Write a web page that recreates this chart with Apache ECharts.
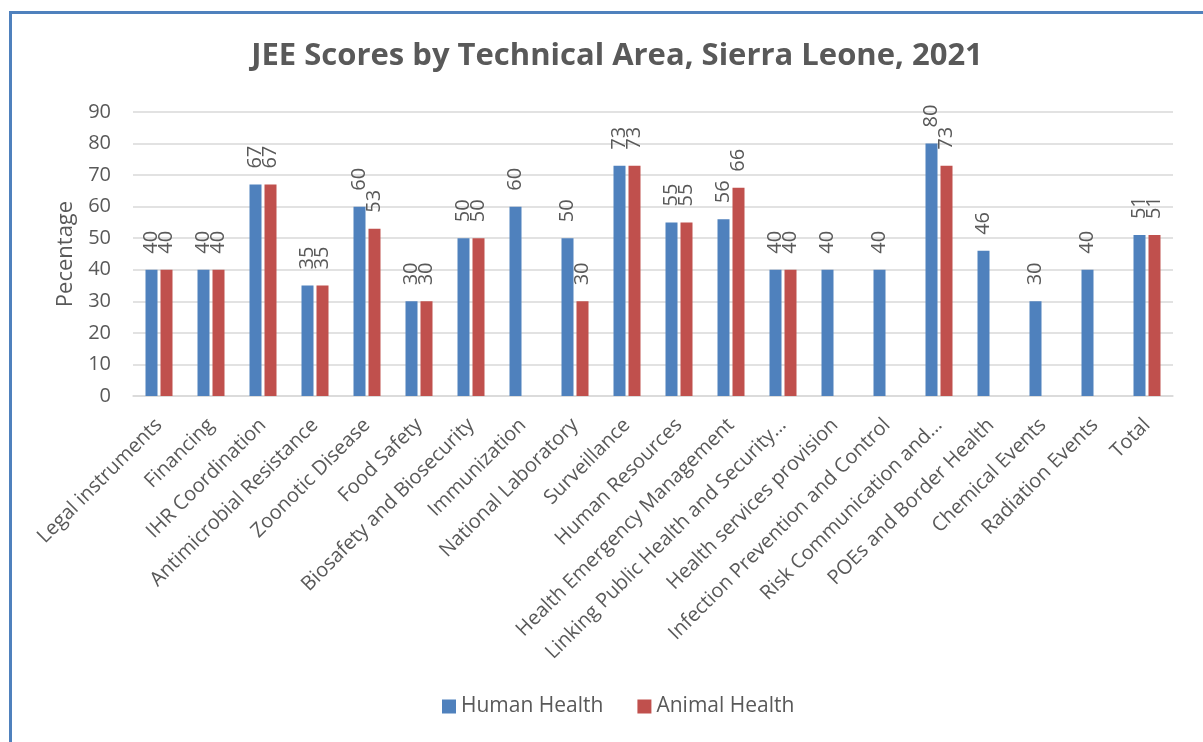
<!DOCTYPE html>
<html>
<head>
<meta charset="utf-8">
<script src="https://cdn.jsdelivr.net/npm/echarts@6/dist/echarts.min.js"></script>
<style>
  html, body { margin: 0; padding: 0; background: #fff; }
  #chart { width: 1203px; height: 742px; }
</style>
</head>
<body>
<div id="chart"></div>
<script>
// categories (long ones are cut in the source chart)
var categories = [
  'Legal instruments', 'Financing', 'IHR Coordination', 'Antimicrobial Resistance',
  'Zoonotic Disease', 'Food Safety', 'Biosafety and Biosecurity', 'Immunization',
  'National Laboratory', 'Surveillance', 'Human Resources', 'Health Emergency Management',
  'Linking Public Health and Security…', 'Health services provision',
  'Infection Prevention and Control', 'Risk Communication and…',
  'POEs and Border Health', 'Chemical Events', 'Radiation Events', 'Total'
];
var humanHealth = [40, 40, 67, 35, 60, 30, 50, 60, 50, 73, 55, 56, 40, 40, 40, 80, 46, 30, 40, 51];
var animalHealth = [40, 40, 67, 35, 53, 30, 50, null, 30, 73, 55, 66, 40, null, null, 73, null, null, null, 51];
var yTicks = {min: 0, max: 90, interval: 10};

var FONT = '"Open Sans", sans-serif';
var TXT = '#595959';

var chart = echarts.init(document.getElementById('chart'), null, {renderer: 'canvas'});

var barLabel = {
  show: true,
  position: 'top',
  rotate: 90,
  align: 'left',
  verticalAlign: 'middle',
  distance: 16,
  fontSize: 20,
  fontFamily: FONT,
  color: TXT
};

var option = {
  animation: false,
  backgroundColor: '#fff',
  title: {
    text: 'JEE Scores by Technical Area, Sierra Leone, 2021',
    left: 612,
    textAlign: 'center',
    top: 36,
    textStyle: {fontSize: 31, fontWeight: 'bold', color: TXT, fontFamily: FONT}
  },
  legend: {
    bottom: 20,
    left: 437,
    itemWidth: 14,
    itemHeight: 14,
    itemGap: 34,
    icon: 'rect',
    textStyle: {fontSize: 21, color: TXT, fontFamily: FONT}
  },
  graphic: [{
    type: 'rect',
    shape: {x: 10.5, y: 12.5, width: 1400, height: 900},
    style: {fill: 'none', stroke: '#4f81bd', lineWidth: 3},
    silent: true
  }],
  grid: {left: 133, right: 30, top: 112, bottom: 346},
  xAxis: {
    type: 'category',
    data: categories,
    axisTick: {show: false},
    axisLine: {lineStyle: {color: '#d9d9d9', width: 1.5}},
    axisLabel: {
      interval: 0,
      rotate: 45,
      margin: 26,
      fontSize: 20,
      fontFamily: FONT,
      color: TXT
    }
  },
  yAxis: {
    type: 'value',
    min: yTicks.min,
    max: yTicks.max,
    interval: yTicks.interval,
    name: 'Pecentage',
    nameLocation: 'middle',
    nameRotate: 90,
    nameGap: 56,
    nameTextStyle: {fontSize: 22, fontFamily: FONT, color: TXT},
    axisLine: {show: false},
    axisTick: {show: false},
    axisLabel: {fontSize: 20, fontFamily: FONT, color: TXT, margin: 22},
    splitLine: {lineStyle: {color: '#d9d9d9', width: 1.5}}
  },
  series: [
    {
      name: 'Human Health',
      type: 'bar',
      data: humanHealth,
      barWidth: 12,
      barGap: '25%',
      itemStyle: {color: '#4f81bd'},
      label: barLabel
    },
    {
      name: 'Animal Health',
      type: 'bar',
      data: animalHealth,
      barWidth: 12,
      barGap: '25%',
      itemStyle: {color: '#c0504d'},
      label: barLabel
    }
  ]
};

chart.setOption(option);
</script>
</body>
</html>
